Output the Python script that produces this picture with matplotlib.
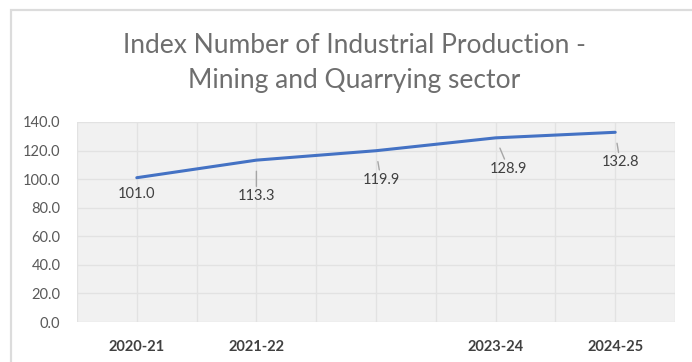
import matplotlib
matplotlib.use("Agg")
import matplotlib.pyplot as plt
from matplotlib.patches import Rectangle

# Data
years = ["2020-21", "2021-22", "2022-23", "2023-24", "2024-25"]
tick_labels = ["2020-21", "2021-22", "", "2023-24", "2024-25"]
index_values = [101.0, 113.3, 119.9, 128.9, 132.8]
# label offsets in pixels (dx, dy) and whether a leader line is drawn
label_offsets = [(0, -16), (0, -36), (5, -29), (13, -31), (5, -30)]
leaders = [False, True, True, True, True]

plt.rcParams["font.family"] = ["Lato", "DejaVu Sans"]

fig = plt.figure(figsize=(6.92, 3.62), dpi=100)
fig.patch.set_facecolor("white")

# outer chart frame
fig.patches.append(Rectangle((11 / 692, -0.05), 1.1, (362 - 10) / 362 + 0.05,
                             transform=fig.transFigure, fill=False,
                             edgecolor="#dcdcdc", linewidth=1.6))

ax = fig.add_axes([77 / 692, 40 / 362, 598 / 692, 200 / 362])
ax.set_facecolor("#f1f1f1")

x = list(range(len(years)))
ax.plot(x, index_values, color="#4472c4", linewidth=2.2, solid_capstyle="round", zorder=3)

for xi, v, (dx, dy), lead in zip(x, index_values, label_offsets, leaders):
    ax.annotate(f"{v:.1f}", xy=(xi, v), xytext=(dx, dy), textcoords="offset pixels",
                ha="center", va="center", fontsize=10.5, color="#404040",
                arrowprops=dict(arrowstyle="-", color="#a6a6a6", lw=1.0,
                                shrinkA=0, shrinkB=8) if lead else None,
                zorder=4)

ax.set_xlim(-0.5, len(years) - 0.5)
ax.set_ylim(0, 140)
ax.set_yticks(range(0, 141, 20))
ax.set_yticklabels([f"{t:.1f}" for t in range(0, 141, 20)], fontsize=10.5, color="#595959")
ax.set_xticks(x)
ax.set_xticklabels(tick_labels, fontsize=10.5, fontweight="bold", color="#404040")
ax.set_xticks([i - 0.5 for i in range(len(years) + 1)], minor=True)
ax.tick_params(axis="both", which="both", length=0)
ax.tick_params(axis="x", pad=13)
ax.tick_params(axis="y", pad=12)

ax.grid(True, which="both", color="#e2e2e2", linewidth=1.0, zorder=0)
ax.set_axisbelow(True)
for s in ax.spines.values():
    s.set_visible(False)

fig.text(354 / 692, 1 - 53 / 362, "Index Number of Industrial Production -",
         ha="center", va="baseline", fontsize=19, fontweight="normal", color="#6e6e6e")
fig.text(354 / 692, 1 - 88 / 362, "Mining and Quarrying sector",
         ha="center", va="baseline", fontsize=19, fontweight="normal", color="#6e6e6e")

fig.savefig("out.png", dpi=100)
